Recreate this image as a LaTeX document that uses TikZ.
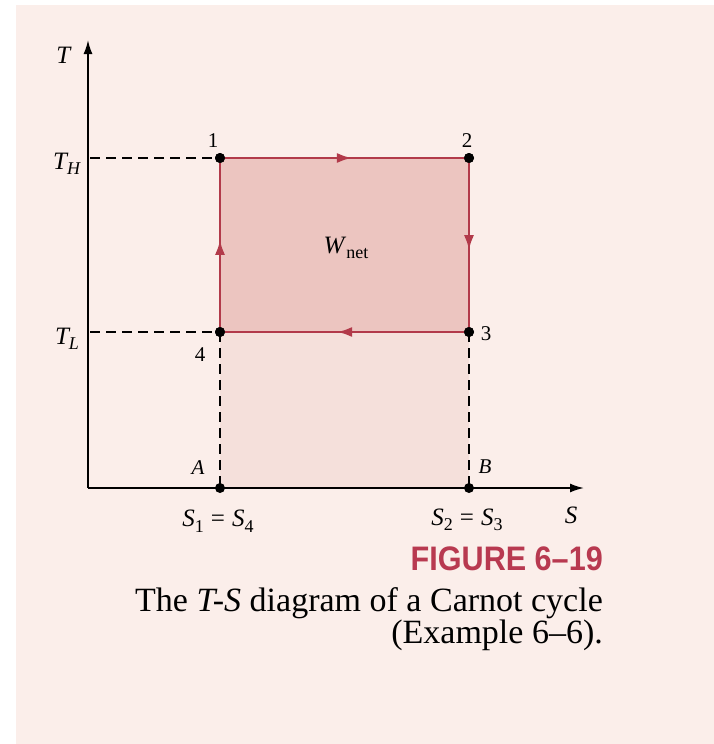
\documentclass[tikz,border=0pt]{standalone}
\usepackage{fontspec}
\setmainfont{Liberation Serif}
\newfontfamily\figfont{Liberation Sans}
\usetikzlibrary{arrows.meta,decorations.markings}
\definecolor{bgpink}{RGB}{251,238,234}
\definecolor{cyclefill}{RGB}{236,197,192}
\definecolor{lowfill}{RGB}{245,224,219}
\definecolor{cyclered}{RGB}{178,58,74}
\definecolor{figred}{RGB}{184,57,80}
\newcommand{\mysub}[1]{\raisebox{-0.22em}{\fontsize{18}{18}\selectfont #1}}
\newcommand{\eqsp}{\hspace{0.28em}=\hspace{0.28em}}
\tikzset{
  lbl/.style={font=\fontsize{25}{27}\selectfont, inner sep=0pt},
  numlbl/.style={font=\fontsize{21}{23}\selectfont, inner sep=0pt},
  axisline/.style={line width=1.8pt, black},
  dashline/.style={line width=1.8pt, black, dash pattern=on 10pt off 6pt},
  dotnode/.style={circle, fill=black, inner sep=0pt, minimum size=10pt},
  cycleedge/.style={line width=2.6pt, cyclered, postaction={decorate},
    decoration={markings, mark=at position 0.53 with {\arrow{Latex[length=15pt,width=10pt]}}}},
  caption/.style={font=\fontsize{34}{36}\selectfont, inner sep=0pt, anchor=base east}
}
\begin{document}
\begin{tikzpicture}[x=1pt,y=-1pt]
\useasboundingbox (0,0) rectangle (714,744);
\fill[white] (0,0) rectangle (714,744);
\fill[bgpink] (16,5) rectangle (714,744);
% fills
\fill[lowfill] (220,332) rectangle (469,488);
\fill[cyclefill] (220,158) rectangle (469,332);
% coordinates
\coordinate (O) at (88,488);
\coordinate (Ttip) at (88,40);
\coordinate (Stip) at (584,488);
\coordinate (yH) at (90,158);
\coordinate (yL) at (90,332);
% axes
\draw[axisline, -{Latex[length=14pt,width=9pt]}] (O) -- (Ttip);
\draw[axisline, -{Latex[length=14pt,width=9pt]}] (O) -- (Stip);
% points
\node[dotnode] (p1) at (220,158) {};
\node[dotnode] (p2) at (469,158) {};
\node[dotnode] (p3) at (469,332) {};
\node[dotnode] (p4) at (220,332) {};
\node[dotnode] (pA) at (220,488) {};
\node[dotnode] (pB) at (469,488) {};
% dashed lines
\draw[dashline] (yH) -- (p1.center);
\draw[dashline] (yL) -- (p4.center);
\draw[dashline] (p4.center) -- (pA.center);
\draw[dashline] (p3.center) -- (pB.center);
% cycle
\draw[cycleedge] (p1.center) -- (p2.center);
\draw[cycleedge] (p2.center) -- (p3.center);
\draw[cycleedge] (p3.center) -- (p4.center);
\draw[cycleedge] (p4.center) -- (p1.center);
\node[dotnode] at (p1) {};
\node[dotnode] at (p2) {};
\node[dotnode] at (p3) {};
\node[dotnode] at (p4) {};
% labels
\node[lbl] (lT) at (64,55) {\textit{T}};
\node[lbl] (lS) at (571,515) {\textit{S}};
\node[lbl] (lTH) at (67,164) {\textit{T}\kern-1.5pt\mysub{\textit{H}}};
\node[lbl] (lTL) at (67,339) {\textit{T}\kern-1.5pt\mysub{\textit{L}}};
\node[numlbl] (l1) at (213,141) {1};
\node[numlbl] (l2) at (467,141) {2};
\node[numlbl] (l3) at (486,334) {3};
\node[numlbl] (l4) at (200,355) {4};
\node[numlbl] (lA) at (198,468) {\textit{A}};
\node[numlbl] (lB) at (485,467) {\textit{B}};
\node[lbl] (lS14) at (218,521) {\textit{S}\mysub{1}\eqsp\textit{S}\mysub{4}};
\node[lbl] (lS23) at (467,520) {\textit{S}\mysub{2}\eqsp\textit{S}\mysub{3}};
\node[lbl] (lW) at (346,248) {\textit{W}\mysub{net}};
% caption
\node[caption, text=figred, font=\figfont\bfseries\fontsize{34}{36}\selectfont, xscale=0.9] (fig) at (603,570) {FIGURE 6–19};
\node[caption] (cap1) at (603,611) {The \textit{T-S} diagram of a Carnot cycle};
\node[caption] (cap2) at (603,643) {(Example 6–6).};
\end{tikzpicture}
\end{document}
